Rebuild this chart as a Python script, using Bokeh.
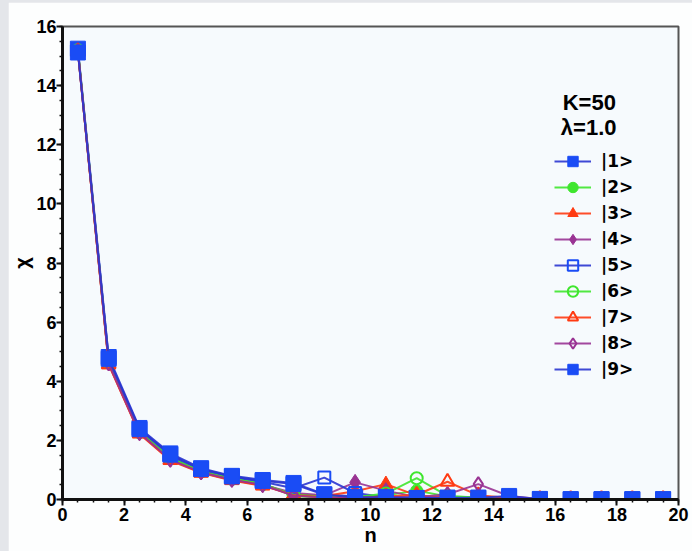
from bokeh.plotting import figure
from bokeh.models import Range1d, SingleIntervalTicker, Legend, LegendItem, Label
from bokeh.layouts import column
from bokeh.embed import file_html
from bokeh.resources import INLINE

# photon-number index
n = [0.5 + i for i in range(20)]

# chi(n) for each initial state |k>
s1 = [15.25, 4.82, 2.42, 1.56, 1.06, 0.80, 0.66, 0.56, 0.18, 0.10, 0.10, 0.06, 0.06, 0.06, 0.08, 0.02, 0.01, 0.01, 0.01, 0.01]
s2 = [15.20, 4.66, 2.30, 1.42, 0.96, 0.72, 0.54, 0.12, 0.06, 0.05, 0.14, 0.30, 0.10, 0.08, 0.05, 0.02, 0.01, 0.01, 0.01, 0.01]
s3 = [15.15, 4.56, 2.22, 1.32, 0.90, 0.64, 0.46, 0.18, 0.12, 0.28, 0.52, 0.14, 0.06, 0.05, 0.04, 0.01, 0.01, 0.01, 0.01, 0.01]
s4 = [15.18, 4.62, 2.26, 1.36, 0.93, 0.68, 0.50, 0.22, 0.14, 0.58, 0.30, 0.08, 0.05, 0.05, 0.04, 0.01, 0.01, 0.01, 0.01, 0.01]
s5 = [15.22, 4.72, 2.36, 1.48, 1.00, 0.76, 0.60, 0.38, 0.74, 0.22, 0.08, 0.05, 0.05, 0.04, 0.03, 0.01, 0.01, 0.01, 0.01, 0.01]
s6 = [15.20, 4.64, 2.28, 1.40, 0.95, 0.70, 0.52, 0.16, 0.10, 0.08, 0.20, 0.72, 0.12, 0.06, 0.04, 0.01, 0.01, 0.01, 0.01, 0.01]
s7 = [15.16, 4.58, 2.24, 1.34, 0.91, 0.66, 0.48, 0.14, 0.08, 0.06, 0.10, 0.16, 0.60, 0.14, 0.05, 0.01, 0.01, 0.01, 0.01, 0.01]
s8 = [15.17, 4.60, 2.25, 1.35, 0.92, 0.67, 0.49, 0.13, 0.07, 0.06, 0.06, 0.08, 0.18, 0.52, 0.12, 0.02, 0.01, 0.01, 0.01, 0.01]
s9 = [15.12, 4.76, 2.38, 1.52, 1.03, 0.78, 0.63, 0.52, 0.16, 0.08, 0.08, 0.05, 0.06, 0.06, 0.12, 0.01, 0.01, 0.01, 0.01, 0.01]

names = ["|1>", "|2>", "|3>", "|4>", "|5>", "|6>", "|7>", "|8>", "|9>"]
values = [s1, s2, s3, s4, s5, s6, s7, s8, s9]

BLUE, GREEN, RED, PURPLE = "#1a4cf5", "#3fe62e", "#ff3a12", "#993393"
LINE_BLUE = "#2a35d0"
styles = [
    (BLUE, LINE_BLUE, "square", True, 15),
    (GREEN, GREEN, "circle", True, 12),
    (RED, RED, "triangle", True, 14),
    (PURPLE, PURPLE, "diamond", True, 16),
    (BLUE, LINE_BLUE, "square", False, 12),
    (GREEN, GREEN, "circle", False, 12),
    (RED, RED, "triangle", False, 14),
    (PURPLE, PURPLE, "diamond", False, 14),
    (BLUE, LINE_BLUE, "square", True, 15),
]

p = figure(width=684, height=549, output_backend="svg", toolbar_location=None,
           x_range=Range1d(0, 20), y_range=Range1d(0, 16),
           min_border_left=52, min_border_right=14, min_border_top=24, min_border_bottom=52)
p.margin = (2, 0, 0, 8)
p.background_fill_color = "#f6fafd"
p.border_fill_color = "#fdfefe"
p.outline_line_color = "#555555"
p.outline_line_width = 2
p.grid.visible = False

for ax in (p.xaxis[0], p.yaxis[0]):
    ax.ticker = SingleIntervalTicker(interval=2, num_minor_ticks=4)
    ax.axis_line_width = 3
    ax.axis_line_color = "#111111"
    ax.major_tick_in = 0
    ax.major_tick_out = 6
    ax.minor_tick_in = 0
    ax.minor_tick_out = 3
    ax.major_tick_line_width = 2
    ax.minor_tick_line_width = 1.5
    ax.major_tick_line_color = "#111111"
    ax.minor_tick_line_color = "#111111"
    ax.major_label_standoff = 2
    ax.major_label_text_font = "Liberation Sans"
    ax.major_label_text_font_size = "18px"
    ax.major_label_text_font_style = "bold"
    ax.major_label_text_color = "#000000"
    ax.axis_label_text_font = "Liberation Sans"
    ax.axis_label_text_font_size = "20px"
    ax.axis_label_text_font_style = "bold"
    ax.axis_label_text_color = "#000000"
    ax.axis_label_standoff = 0

p.yaxis.major_label_standoff = 0
p.xaxis.axis_label = "n"
p.yaxis.axis_label = "χ"

items = []
for name, vals, (color, lcolor, marker, filled, size) in zip(names, values, styles):
    ln = p.line(n, vals, line_color=lcolor, line_width=2, line_alpha=0.9)
    sc = p.scatter(n, vals, marker=marker, size=size,
                   fill_color=color if filled else None,
                   line_color=color, line_width=1 if filled else 2)
    items.append(LegendItem(label=name, renderers=[ln, sc]))

legend = Legend(items=items, location=(492, 117))
legend.padding = 0
legend.margin = 0
legend.spacing = 0
legend.glyph_width = 37
legend.glyph_height = 26
legend.label_height = 26
legend.label_standoff = 10
legend.border_line_color = None
legend.background_fill_alpha = 0
legend.label_text_font = "DejaVu Sans"
legend.label_text_font_size = "17px"
legend.label_text_font_style = "bold"
legend.label_text_color = "#000000"
p.add_layout(legend, "center")

for txt, xx, yy in (("K=50", 16.24, 13.43), ("λ=1.0", 16.18, 12.58)):
    p.add_layout(Label(x=xx, y=yy, text=txt, text_font="Liberation Sans",
                       text_font_size="22px", text_font_style="bold",
                       text_color="#000000", text_baseline="middle", text_align="left"))

page = column(p, styles={"background-color": "#e4e6ea"})
open("out.html", "w").write(file_html(page, INLINE))
